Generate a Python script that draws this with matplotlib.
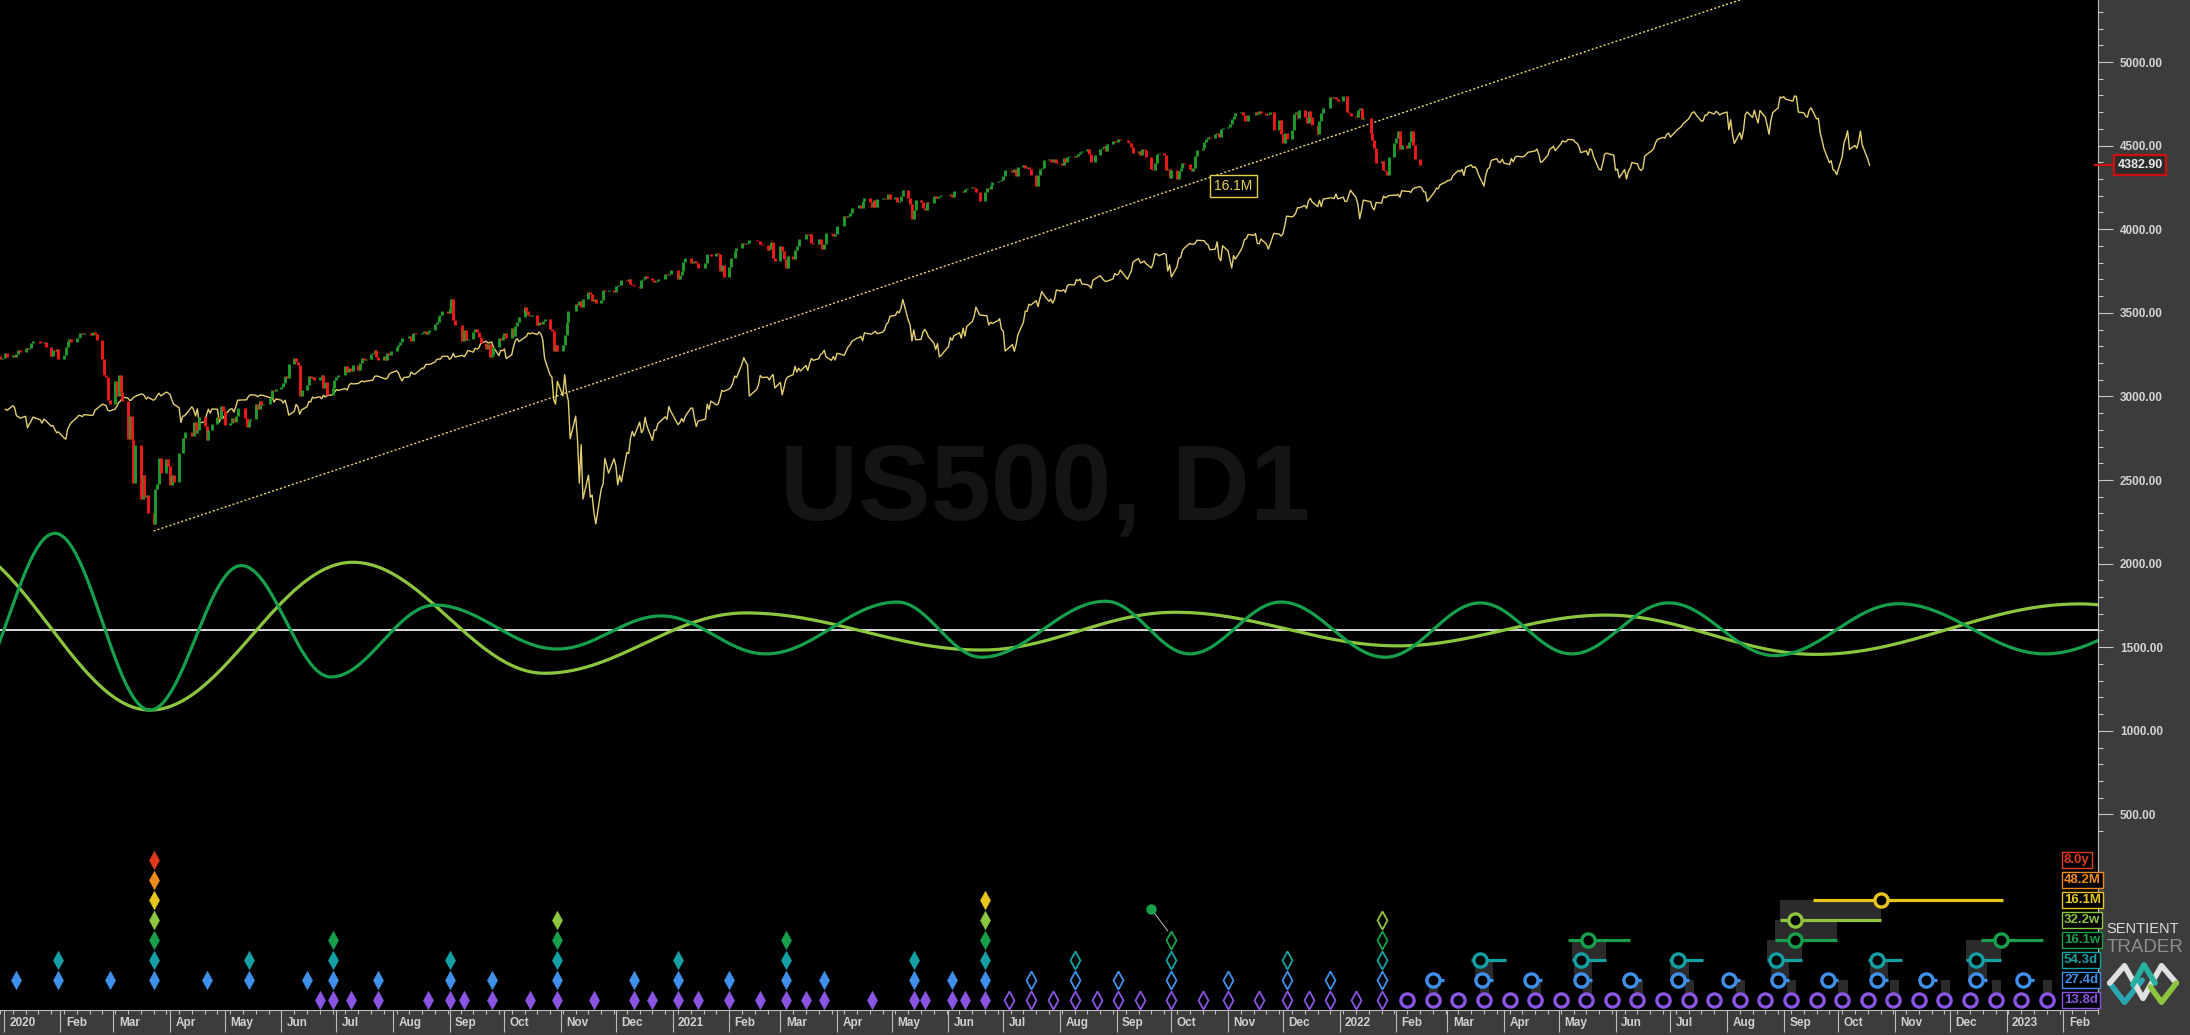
import numpy as np
import pandas as pd
import matplotlib
matplotlib.use('Agg')
import matplotlib.pyplot as plt
import matplotlib.dates as mdates
import matplotlib.transforms as mtrans
from matplotlib.patches import Rectangle

plt.rcParams['font.family'] = ['Liberation Sans', 'DejaVu Sans']

# ---- daily closes, one per NYSE session, 2019-05-01 .. 2022-02-14 ----
closes_2019 = [
    2923, 2917, 2945, 2932, 2884, 2879, 2870, 2881, 2812, 2834, 2851, 2876, 2860, 2840, 2864, 2856, 2822, 2826, 2802, 2783, 2788, 2752,
    2744, 2803, 2826, 2843, 2873, 2886, 2885, 2879, 2891, 2887, 2889, 2917, 2926, 2954, 2950, 2945, 2917, 2913, 2924, 2942,
    2964, 2973, 2996, 2990, 2976, 2979, 2993, 3000, 3014, 3014, 3004, 2984, 2995, 2977, 2985, 3005, 3019, 3003, 3026, 3020, 3013, 2980,
    2954, 2932, 2844, 2882, 2884, 2938, 2919, 2883, 2926, 2840, 2848, 2889, 2924, 2900, 2925, 2923, 2847, 2878, 2869, 2888, 2924, 2926,
    2906, 2938, 2977, 2979, 2979, 2980, 3001, 3010, 3007, 2998, 3006, 3007, 3006, 2992, 2992, 2966, 2985, 2977, 2961, 2977,
    2940, 2888, 2910, 2952, 2939, 2893, 2919, 2938, 2970, 2966, 2996, 2990, 2998, 2986, 3007, 2996, 3005, 3010, 3023, 3040, 3036, 3047, 3038,
    3067, 3078, 3075, 3077, 3085, 3093, 3087, 3091, 3095, 3097, 3120, 3122, 3120, 3108, 3104, 3110, 3134, 3141, 3153, 3141,
    3113, 3093, 3113, 3117, 3146, 3136, 3133, 3142, 3169, 3169, 3191, 3192, 3191, 3205, 3221, 3224, 3223, 3240, 3240, 3221, 3231,
]
closes_2020 = [
    3258, 3235, 3246, 3237, 3253, 3275, 3265, 3288, 3283, 3289, 3317, 3330, 3321, 3321, 3326, 3295, 3244, 3276, 3273, 3284, 3226,
    3249, 3298, 3334, 3345, 3328, 3352, 3358, 3379, 3374, 3380, 3370, 3386, 3373, 3338, 3226, 3128, 3116, 2979, 2954,
    3090, 3003, 3130, 3024, 2972, 2747, 2882, 2741, 2481, 2711, 2386, 2529, 2398, 2409, 2305, 2237, 2447, 2476, 2630, 2541, 2627, 2585,
    2471, 2527, 2489, 2664, 2659, 2750, 2790, 2762, 2846, 2783, 2800, 2875, 2823, 2737, 2799, 2798, 2837, 2878, 2863, 2940, 2912,
    2831, 2843, 2868, 2848, 2881, 2930, 2930, 2870, 2820, 2852, 2864, 2954, 2922, 2972, 2949, 2955, 2992, 3036, 3030, 3044,
    3056, 3081, 3122, 3112, 3194, 3232, 3207, 3190, 3002, 3041, 3067, 3125, 3113, 3115, 3098, 3118, 3131, 3050, 3084, 3009, 3053, 3100,
    3116, 3130, 3180, 3145, 3169, 3152, 3185, 3155, 3197, 3227, 3216, 3225, 3251, 3258, 3276, 3236, 3216, 3239, 3218, 3258, 3246, 3271,
    3295, 3306, 3328, 3349, 3351, 3360, 3333, 3380, 3373, 3373, 3382, 3389, 3375, 3385, 3397, 3431, 3443, 3479, 3485, 3508, 3500,
    3527, 3580, 3455, 3427, 3332, 3398, 3339, 3341, 3383, 3401, 3385, 3357, 3319, 3281, 3316, 3237, 3246, 3298, 3351, 3336, 3363,
    3381, 3348, 3408, 3361, 3419, 3447, 3477, 3534, 3512, 3488, 3483, 3484, 3427, 3443, 3436, 3453, 3465, 3401, 3390, 3271, 3310, 3270,
    3310, 3370, 3443, 3510, 3509, 3551, 3546, 3573, 3537, 3585, 3627, 3610, 3568, 3582, 3558, 3578, 3636, 3630, 3638, 3622,
    3662, 3669, 3667, 3699, 3692, 3702, 3673, 3668, 3663, 3647, 3695, 3702, 3722, 3709, 3695, 3687, 3690, 3703, 3735, 3727, 3732, 3756,
]
closes_2021 = [
    3701, 3726, 3748, 3804, 3825, 3799, 3801, 3810, 3795, 3768, 3798, 3852, 3853, 3841, 3855, 3849, 3750, 3787, 3714,
    3774, 3826, 3830, 3872, 3887, 3915, 3911, 3910, 3916, 3934, 3932, 3931, 3913, 3907, 3877, 3881, 3925, 3829, 3811,
    3901, 3870, 3820, 3768, 3842, 3821, 3875, 3899, 3939, 3943, 3969, 3963, 3974, 3915, 3913, 3941, 3911, 3881, 3910, 3975, 3971, 3959, 3973,
    4020, 4078, 4074, 4080, 4097, 4129, 4128, 4142, 4125, 4170, 4185, 4163, 4135, 4173, 4135, 4180, 4188, 4187, 4183, 4211, 4181,
    4192, 4165, 4168, 4201, 4233, 4189, 4152, 4063, 4113, 4174, 4164, 4128, 4116, 4160, 4156, 4198, 4188, 4195, 4201, 4204,
    4202, 4208, 4192, 4230, 4226, 4227, 4220, 4239, 4247, 4255, 4247, 4224, 4222, 4166, 4224, 4246, 4242, 4266, 4281, 4291, 4291, 4297,
    4320, 4352, 4344, 4358, 4321, 4370, 4385, 4369, 4374, 4360, 4327, 4258, 4323, 4359, 4368, 4412, 4422, 4401, 4400, 4419, 4395,
    4387, 4423, 4403, 4429, 4437, 4432, 4436, 4447, 4460, 4468, 4479, 4448, 4400, 4405, 4442, 4480, 4486, 4496, 4470, 4509, 4529, 4523,
    4524, 4537, 4535, 4520, 4514, 4493, 4458, 4469, 4443, 4481, 4474, 4433, 4358, 4354, 4395, 4449, 4455, 4443, 4353, 4360, 4308,
    4357, 4300, 4346, 4364, 4399, 4391, 4361, 4351, 4364, 4438, 4471, 4486, 4520, 4537, 4549, 4545, 4567, 4575, 4551, 4597, 4605,
    4614, 4631, 4660, 4680, 4697, 4702, 4685, 4646, 4649, 4683, 4682, 4701, 4689, 4705, 4698, 4682, 4691, 4701, 4595, 4655, 4567,
    4513, 4577, 4538, 4592, 4687, 4701, 4668, 4712, 4669, 4635, 4710, 4669, 4621, 4568, 4649, 4697, 4726, 4791, 4786, 4793, 4778, 4766,
]
closes_2022 = [
    4797, 4794, 4701, 4696, 4677, 4670, 4713, 4726, 4660, 4663, 4577, 4533, 4483, 4398, 4410, 4357, 4350, 4326, 4432, 4516,
    4546, 4589, 4477, 4501, 4484, 4522, 4587, 4504, 4419, 4383,
]
last_price = 4382.90

nyse_holidays = [
    '2019-05-27', '2019-07-04', '2019-09-02', '2019-11-28', '2019-12-25',
    '2020-01-01', '2020-01-20', '2020-02-17', '2020-04-10', '2020-05-25', '2020-07-03', '2020-09-07', '2020-11-26', '2020-12-25',
    '2021-01-01', '2021-01-18', '2021-02-15', '2021-04-02', '2021-05-31', '2021-07-05', '2021-09-06', '2021-11-25', '2021-12-24',
    '2022-01-17', '2022-02-21', '2022-04-15', '2022-05-30', '2022-06-20', '2022-07-04', '2022-09-05', '2022-11-24', '2022-12-26',
    '2023-01-02', '2023-01-16', '2023-02-20',
]
shift_bars = 170   # yellow line = price pushed forward this many sessions

# trend line through the 2020 low
trend_dates = ['2020-03-23', '2022-03-30']
trend_vals = [2195, 4892]

# cycle curves: turning points
dg_dates = ['2019-12-10', '2020-01-29', '2020-03-21', '2020-05-10', '2020-06-28', '2020-08-24', '2020-10-30',
            '2020-12-26', '2021-02-21', '2021-05-04', '2021-06-19', '2021-08-26', '2021-10-11', '2021-11-30',
            '2022-01-26', '2022-03-19', '2022-05-08', '2022-06-30', '2022-08-27', '2022-11-03', '2023-01-22', '2023-04-16']
dg_vals = [1200, 2181, 1124, 1988, 1322, 1752, 1489, 1687, 1460, 1770, 1440, 1775, 1460, 1770, 1440, 1765,
           1460, 1765, 1450, 1760, 1460, 1760]
yg_dates = ['2019-12-02', '2020-03-21', '2020-07-10', '2020-10-23', '2021-02-10', '2021-06-19', '2021-10-03',
            '2022-02-02', '2022-05-27', '2022-09-19', '2023-02-10', '2023-06-09']
yg_vals = [2130, 1124, 2008, 1344, 1705, 1483, 1709, 1508, 1692, 1457, 1759, 1450]
zero_line = 1600

# cycle rows (bottom panel)
row_names = ['13.8d', '27.4d', '54.3d', '16.1w', '32.2w', '16.1M', '48.2M', '8.0y']
row_colors = ['#8a55e2', '#3f90ea', '#15a0a3', '#16a04c', '#8cc63f', '#e8c51c', '#ef8a1c', '#dd3b1b']

t13d_done = ['2020-06-22', '2020-06-29', '2020-07-09', '2020-07-24', '2020-08-20', '2020-09-01', '2020-09-09',
             '2020-09-24', '2020-10-15', '2020-10-30', '2020-11-19', '2020-12-11', '2020-12-21', '2021-01-04',
             '2021-01-15', '2021-02-01', '2021-02-18', '2021-03-04', '2021-03-15', '2021-03-25', '2021-04-20',
             '2021-05-13', '2021-05-19', '2021-06-03', '2021-06-10', '2021-06-21']
t27d_done = ['2020-01-08', '2020-01-31', '2020-02-28', '2020-03-23', '2020-04-21', '2020-05-14', '2020-06-15',
             '2020-06-29', '2020-07-24', '2020-09-01', '2020-09-24', '2020-10-30', '2020-12-11', '2021-01-04',
             '2021-02-01', '2021-03-04', '2021-03-25', '2021-05-13', '2021-06-03', '2021-06-21']
t54d_done = ['2020-01-31', '2020-03-23', '2020-05-14', '2020-06-29', '2020-09-01', '2020-10-30', '2021-01-04',
             '2021-03-04', '2021-05-13', '2021-06-21']
t16w_done = ['2020-03-23', '2020-06-29', '2020-10-30', '2021-03-04', '2021-06-21']
t32w_done = ['2020-03-23', '2020-10-30', '2021-06-21']
t16m_done = ['2020-03-23', '2021-06-21']
t48m_done = ['2020-03-23']
t8y_done = ['2020-03-23']

t13d_open = ['2021-07-04', '2021-07-16', '2021-07-28', '2021-08-09', '2021-08-21', '2021-09-02', '2021-09-14',
             '2021-10-01', '2021-10-18', '2021-11-01', '2021-11-18', '2021-12-03', '2021-12-15', '2021-12-27',
             '2022-01-10', '2022-01-24']
t27d_open = ['2021-07-16', '2021-08-09', '2021-09-02', '2021-10-01', '2021-11-01', '2021-12-03', '2021-12-27', '2022-01-24']
t54d_open = ['2021-08-09', '2021-10-01', '2021-12-03', '2022-01-24']
t16w_open = ['2021-10-01', '2022-01-24']
t32w_open = ['2022-01-24']

# projected troughs
f13d = ['2022-02-07', '2022-02-21', '2022-03-07', '2022-03-21', '2022-04-04', '2022-04-18', '2022-05-02',
        '2022-05-16', '2022-05-30', '2022-06-13', '2022-06-27', '2022-07-11', '2022-07-25', '2022-08-08',
        '2022-08-22', '2022-09-05', '2022-09-19', '2022-10-03', '2022-10-17', '2022-10-31', '2022-11-14',
        '2022-11-28', '2022-12-12', '2022-12-26', '2023-01-09', '2023-01-23']
f27d = ['2022-02-21', '2022-03-20', '2022-04-16', '2022-05-13', '2022-06-09', '2022-07-05', '2022-08-02',
        '2022-08-29', '2022-09-25', '2022-10-22', '2022-11-18', '2022-12-15', '2023-01-10']
f54d = ['2022-03-19', '2022-05-13', '2022-07-05', '2022-08-28', '2022-10-22', '2022-12-15']
f16w = ['2022-05-17', '2022-09-07', '2022-12-29']
f32w = ['2022-09-07']
f16m = ['2022-10-24']
# window around each projection, days before / after
f_window = [(-2, 3), (-4, 6), (-5, 14), (-11, 23), (-8, 47), (-37, 67)]
# which projections nest under the row above
f13d_nested = [1, 3, 5, 7, 9, 11, 13, 15, 17, 19, 21, 23, 25]
f27d_nested = [1, 3, 5, 7, 9, 11]
f54d_nested = [1, 3, 5]
f16w_nested = [1]
f32w_nested = [0]
f16m_nested = []

pin_date, pin_row = '2021-09-20', 4.55
pin_tip_date, pin_tip_row = '2021-09-29', 3.45


def dn(lst):
    return mdates.date2num(pd.to_datetime(lst).to_pydatetime())


def wave(dates, vals, n=60):
    xs, ys = [], []
    d = dn(dates)
    for i in range(len(d) - 1):
        t = np.linspace(0, 1, n)
        xs.append(d[i] + (d[i + 1] - d[i]) * t)
        ys.append(vals[i] + (vals[i + 1] - vals[i]) * (1 - np.cos(np.pi * t)) / 2)
    return np.concatenate(xs), np.concatenate(ys)


W, H = 2190, 1035
fig = plt.figure(figsize=(W / 100, H / 100), dpi=100)
fig.patch.set_facecolor('#3c3c3c')
rect = [0, 25 / H, 2098 / W, 1010 / H]
ax = fig.add_axes(rect)
ax.set_facecolor('black')

base = mdates.date2num(pd.Timestamp('2020-01-01').to_pydatetime())
x0, x1 = base + 2.67, base + 1145.5
ax.set_xlim(x0, x1)
ax.set_ylim(-670, 5371)

# watermark
ax.text(0.498, 0.513, 'US500, D1', transform=ax.transAxes, fontsize=78, fontweight='bold',
        color='#141414', ha='center', va='center', zorder=0)

closes = np.array(closes_2019 + closes_2020 + closes_2021 + closes_2022, dtype=float)
sessions = pd.bdate_range('2019-05-01', '2023-06-30', freq='C', holidays=nyse_holidays)
sx = mdates.date2num(sessions.to_pydatetime())
n = len(closes)

# zero line and cycles
ax.axhline(zero_line, color='white', lw=1.2, zorder=2)
wx, wy = wave(yg_dates, yg_vals)
ax.plot(wx, wy, color='#8cc63f', lw=2.3, zorder=3)
wx, wy = wave(dg_dates, dg_vals)
ax.plot(wx, wy, color='#16a04c', lw=2.3, zorder=3)

# projected price line
ax.plot(sx[shift_bars:shift_bars + n], closes, color='#e4d070', lw=1.0, zorder=4)

# trend line
tx = dn(trend_dates)
slope = (trend_vals[1] - trend_vals[0]) / (tx[1] - tx[0])
ax.plot([tx[0], x1], [trend_vals[0], trend_vals[0] + slope * (x1 - tx[0])],
        color='#e8d66e', lw=1.0, dashes=(1.5, 1.5), zorder=4)
ax.text(dn(['2021-11-04'])[0], 4258, '16.1M', color='#e6d24a', fontsize=10, ha='center', va='center',
        zorder=7, bbox=dict(boxstyle='square,pad=0.3', facecolor='black', edgecolor='#e6d24a', lw=1))

# candles (open = previous close)
o = closes[:-1]
c = closes[1:]
cols = np.where(c >= o, '#1f9a2c', '#f01a1a')
ax.vlines(sx[1:n], o, c, colors=cols, lw=2.1, zorder=5)

# axes look
for s in ['top', 'left']:
    ax.spines[s].set_visible(False)
ax.spines['right'].set_color('#bdbdbd')
ax.spines['bottom'].set_color('#bdbdbd')
ax.yaxis.tick_right()
ax.set_yticks(np.arange(500, 5001, 500))
ax.set_yticklabels(['%.2f' % v for v in np.arange(500, 5001, 500)])
ax.set_yticks(np.arange(400, 5301, 100), minor=True)
ax.tick_params(axis='y', which='major', length=10.8, width=0.8, color='#c8c8c8',
               labelcolor='#d4d4d4', labelsize=8.5, pad=5)
ax.tick_params(axis='y', which='minor', length=3.6, width=0.8, color='#c8c8c8')
for lbl in ax.get_yticklabels():
    lbl.set_fontweight('bold')

months = pd.date_range('2020-01-01', '2023-02-01', freq='MS')
weeks = pd.date_range('2019-12-30', '2023-02-20', freq='W-MON')
ax.set_xticks(mdates.date2num(months.to_pydatetime()))
ax.set_xticks(mdates.date2num(weeks.to_pydatetime()), minor=True)
ax.tick_params(axis='x', which='major', length=16, width=0.8, color='#bdbdbd', labelbottom=False)
ax.tick_params(axis='x', which='minor', length=3, width=0.8, color='#bdbdbd')
xb = mtrans.blended_transform_factory(ax.transData, ax.transAxes)
for m in months:
    lab = str(m.year) if m.month == 1 else m.strftime('%b')
    ax.text(mdates.date2num(m.to_pydatetime()) + 3, -0.0128, lab, transform=xb, ha='left', va='center',
            fontsize=8.5, fontweight='bold', color='#d0d0d0')

# last price tag
yb = mtrans.blended_transform_factory(ax.transAxes, ax.transData)
ax.plot([0.9985, 1.0072], [last_price, last_price], transform=yb, color='#d01010', lw=1.6, clip_on=False, zorder=8)
ax.text(1.0092, last_price, '%.2f' % last_price, transform=yb, ha='left', va='center', fontsize=9,
        fontweight='bold', color='#e8e8e8',
        bbox=dict(boxstyle='square,pad=0.3', facecolor='#2c2c2c', edgecolor='#d01010', lw=1.6))

# ---- cycle trough panel ----
axm = fig.add_axes(rect, sharex=ax)
axm.set_facecolor('none')
axm.set_ylim(-0.5, 50)
axm.axis('off')

diamond = [(0, 1), (0.55, 0), (0, -1), (-0.55, 0), (0, 1)]
done_rows = [t13d_done, t27d_done, t54d_done, t16w_done, t32w_done, t16m_done, t48m_done, t8y_done]
open_rows = [t13d_open, t27d_open, t54d_open, t16w_open, t32w_open]
for r, lst in enumerate(done_rows):
    axm.plot(dn(lst), [r] * len(lst), ls='none', marker=diamond, ms=13, color=row_colors[r],
             mec=row_colors[r], mew=0.5)
for r, lst in enumerate(open_rows):
    axm.plot(dn(lst), [r] * len(lst), ls='none', marker=diamond, ms=13, mfc='none', mec=row_colors[r],
             mew=1.3)

proj_rows = [f13d, f27d, f54d, f16w, f32w, f16m]
nest_rows = [f13d_nested, f27d_nested, f54d_nested, f16w_nested, f32w_nested, f16m_nested]
for r, lst in enumerate(proj_rows):
    cx = dn(lst)
    lo, hi = f_window[r]
    for i in nest_rows[r]:
        axm.add_patch(Rectangle((cx[i] + lo, r), hi - lo, 1, facecolor='#2b2b2b', edgecolor='none', zorder=1))
    for x in cx:
        axm.plot([x + lo, x + hi], [r, r], color=row_colors[r], lw=2.3, zorder=2, solid_capstyle='butt')
    axm.plot(cx, [r] * len(cx), ls='none', marker='o', ms=9.5, mfc='black', mec=row_colors[r], mew=2.4, zorder=3)

px, ptx = dn([pin_date])[0], dn([pin_tip_date])[0]
axm.plot([px, ptx], [pin_row, pin_tip_row], color='#bdbdbd', lw=0.7, zorder=3)
axm.plot([px], [pin_row], marker='o', ms=6.5, color='#16a04c', zorder=4)

# row legend
lb = mtrans.blended_transform_factory(axm.transAxes, axm.transData)
for r, name in enumerate(row_names):
    axm.text(0.9838, r, name, transform=lb, ha='left', va='center', fontsize=9.5, fontweight='bold',
             color=row_colors[r], zorder=6,
             bbox=dict(boxstyle='square,pad=0.15', facecolor='black', edgecolor=row_colors[r], lw=1))

# ---- branding ----
fig.text(2143 / W, 1 - 929 / H, 'SENTIENT', ha='center', va='center', fontsize=10.5, color='#dcdcdc')
fig.text(2145 / W, 1 - 947 / H, 'TRADER', ha='center', va='center', fontsize=13.5, color='#8e8e8e')
lax = fig.add_axes([2106 / W, 27 / H, 74 / W, 48 / H])
lax.set_xlim(0, 8)
lax.set_ylim(0, 5)
lax.axis('off')
lax.plot([0.4, 2.0, 3.9], [2.6, 0.6, 2.9], color='#2aa6b0', lw=4, solid_capstyle='round')
lax.plot([0.4, 2.0, 4.0, 6.0, 7.6], [2.6, 4.4, 1.0, 4.4, 2.6], color='#e0e0e0', lw=4, solid_capstyle='round')
lax.plot([2.9, 4.1, 5.3], [2.4, 4.5, 2.6], color='#29b0a0', lw=4, solid_capstyle='round')
lax.plot([4.8, 6.0, 7.6], [2.2, 0.6, 2.6], color='#8cc63f', lw=4, solid_capstyle='round')

fig.savefig('out.png', dpi=100, facecolor=fig.get_facecolor())
